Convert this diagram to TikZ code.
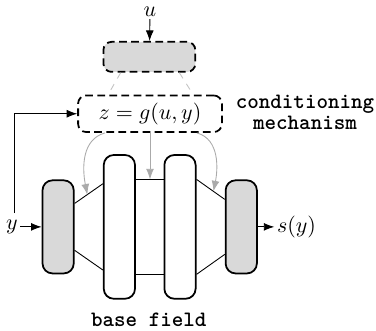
\documentclass[tikz,border=0pt]{standalone}
\usepackage{tikz}
\usetikzlibrary{arrows.meta,calc}
\definecolor{blockgray}{RGB}{217,217,217}
\definecolor{condgray}{RGB}{170,170,170}
\definecolor{linkgray}{RGB}{195,195,195}

\begin{document}
\begin{tikzpicture}[
    blk/.style={draw, thick, rounded corners=1.6mm, minimum width=0.5cm},
    gblk/.style={blk, fill=blockgray, minimum height=1.49cm},
    wblk/.style={blk, fill=white, minimum height=2.30cm},
    dblk/.style={draw, thick, dash pattern=on 3.5pt off 2pt, rounded corners=1.3mm},
    cnd/.style={-{Latex}, condgray},
    lnk/.style={linkgray, dashed, shorten >=0.8mm},
    lab/.style={inner sep=1pt},
]
    \useasboundingbox (0,0) rectangle (6.016,-5.296);
    % conditioning mechanism
    \node[dblk, fill=blockgray, minimum width=1.47cm, minimum height=0.48cm] (enc) at (2.39,-0.91) {};
    \node[dblk, minimum width=2.30cm, minimum height=0.46cm] (cz) at (2.40,-1.82) {$z = g(u,y)$};
    \node[lab] (u) at (2.40,-0.19) {$u$};
    \draw[-{Latex}] (u) -- (enc);
    \draw[lnk] ([xshift=-4.6mm]enc.south) -- ([xshift=-6.7mm]cz.north);
    \draw[lnk] ([xshift=4.8mm]enc.south) -- ([xshift=6.9mm]cz.north);
    \node[font=\ttfamily\bfseries, align=center] (cm) at (4.88,-1.80) {conditioning\\[-2.5pt]mechanism};

    % base field
    \node[gblk] (lg) at (0.93,-3.63) {};
    \node[wblk] (w1) at (1.91,-3.63) {};
    \node[wblk] (w2) at (2.88,-3.63) {};
    \node[gblk] (rg) at (3.86,-3.63) {};
    \draw ([yshift=3.75mm]lg.east) -- coordinate[pos=0.45] (ca) ([yshift=6.9mm]w1.west);
    \draw ([yshift=-3.75mm]lg.east) -- ([yshift=-6.9mm]w1.west);
    \draw ([yshift=7.6mm]w1.east) -- coordinate (cb) ([yshift=7.6mm]w2.west);
    \draw ([yshift=-7.6mm]w1.east) -- ([yshift=-7.6mm]w2.west);
    \draw ([yshift=7.6mm]w2.east) -- coordinate[pos=0.6] (cc) ([yshift=4.4mm]rg.west);
    \draw ([yshift=-7.6mm]w2.east) -- ([yshift=-4.4mm]rg.west);
    \node[font=\ttfamily\bfseries] (bf) at (2.38,-5.12) {base field};

    % inputs and output
    \node[lab] (yin) at (0.19,-3.63) {$y$};
    \node[lab, anchor=west] (sy) at (4.39,-3.63) {$s(y)$};
    \draw[-{Latex}] (yin) -- (lg);
    \draw[-{Latex}] (rg) -- (sy);
    \coordinate (fb) at (0.23,-3.41);
    \draw[-{Latex}] (fb) |- (cz.west);

    % modulation
    \draw[cnd] ([xshift=-7.2mm]cz.south) .. controls +(-3.7mm,-1mm) and +(-0.85mm,4.3mm) .. (ca);
    \draw[cnd] (cz.south) -- (cz.south |- cb);
    \draw[cnd] ([xshift=7.5mm]cz.south) .. controls +(3.7mm,-1mm) and +(0.7mm,3.5mm) .. (cc);
\end{tikzpicture}
\end{document}
